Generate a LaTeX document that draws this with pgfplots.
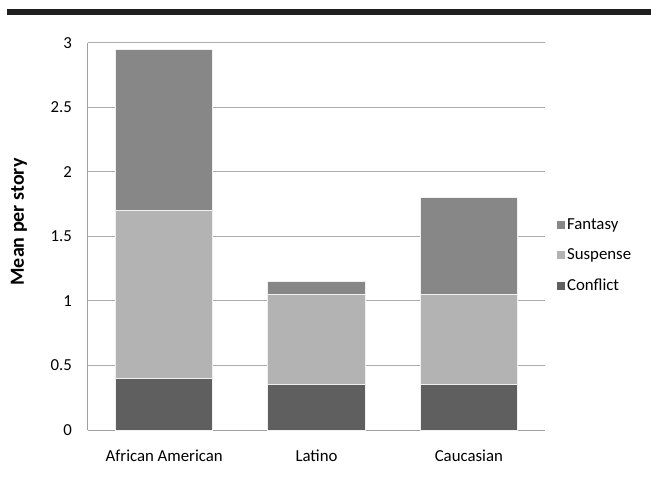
\documentclass[border=0pt]{standalone}
\usepackage{pgfplots}
\pgfplotsset{compat=1.18}
\usepackage{fontspec}
\setmainfont{Carlito}
\definecolor{cFan}{HTML}{878787}
\definecolor{cSus}{HTML}{B3B3B3}
\definecolor{cCon}{HTML}{5F5F5F}
\begin{document}
\fontsize{16.5}{19}\selectfont
\begin{tikzpicture}[x=1pt,y=1pt]
\useasboundingbox (0,0) rectangle (651,482);
\fill[black!88] (7,467) rectangle (651,473);
\begin{axis}[
  at={(88pt,52pt)}, anchor=south west, scale only axis,
  width=457pt, height=387pt,
  xmin=-0.5, xmax=2.5, ymin=0, ymax=3,
  ybar stacked, bar width=0.637,
  xtick={0,1,2}, xticklabels={African American, Latino, Caucasian},
  ytick={0,0.5,1,1.5,2,2.5,3}, yticklabels={0,0.5,1,1.5,2,2.5,3},
  major tick length=0pt,
  axis x line*=bottom, axis y line*=left,
  axis line style={draw=gray!75, line width=1pt, -},
  ymajorgrids, grid style={draw=gray!65, line width=1pt},
  tick label style={font=\fontsize{16.8}{19}\selectfont},
  yticklabel style={anchor=east, xshift=-10.5pt},
  xticklabel style={anchor=north, yshift=-14.5pt},
  ylabel={Mean per story},
  ylabel style={at={(axis description cs:-0.151,0.5375)}, anchor=center, font=\bfseries\fontsize{20}{24}\selectfont},
  legend style={at={(axis description cs:1.026,0.450)}, anchor=west, draw=none, fill=none,
    font=\fontsize{16.8}{19}\selectfont, row sep=13pt, inner sep=0pt},
  legend cell align=left, reverse legend,
  legend image code/.code={\path[#1, draw=none] (-1pt,-4pt) rectangle (7pt,4pt);},
  every axis plot/.append style={draw=white!88!gray, line width=1pt},
]
\addplot[fill=cCon] coordinates {(0,0.4) (1,0.35) (2,0.35)};
\addlegendentry{Conflict}
\addplot[fill=cSus] coordinates {(0,1.3) (1,0.7) (2,0.7)};
\addlegendentry{Suspense}
\addplot[fill=cFan] coordinates {(0,1.25) (1,0.1) (2,0.75)};
\addlegendentry{Fantasy}
\end{axis}
\end{tikzpicture}
\end{document}
